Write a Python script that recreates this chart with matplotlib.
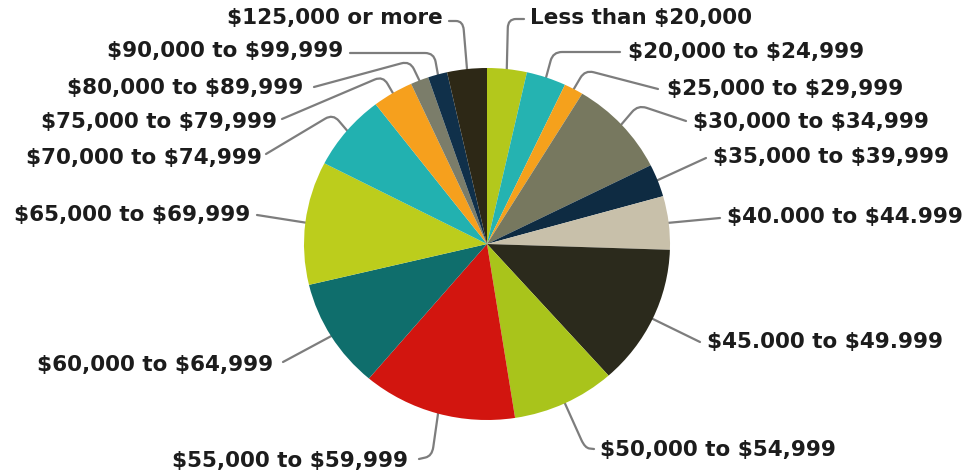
import numpy as np
import matplotlib
matplotlib.use("Agg")
import matplotlib.pyplot as plt
from matplotlib.path import Path
from matplotlib.patches import PathPatch

# Tramos de ingreso y su participación (%)
tramos = [
    "Less than $20,000", "$20,000 to $24,999", "$25,000 to $29,999",
    "$30,000 to $34,999", "$35,000 to $39,999", "$40.000 to $44.999",
    "$45.000 to $49.999", "$50,000 to $54,999", "$55,000 to $59,999",
    "$60,000 to $64,999", "$65,000 to $69,999", "$70,000 to $74,999",
    "$75,000 to $79,999", "$80,000 to $89,999", "$90,000 to $99,999",
    "$125,000 or more",
]
porcentajes = [3.5, 3.5, 1.7, 8.9, 3.0, 4.9, 12.9, 9.1,
               13.6, 10.1, 11.3, 7.0, 3.6, 1.6, 1.7, 3.5]
colores = ["#b3c81c", "#25b3b1", "#f5a11c", "#77785f", "#0e2b42", "#c8c0aa",
           "#2b2a1c", "#a9c41b", "#d2150f", "#0f6e6c", "#bccd1c", "#22b1b0",
           "#f6a01d", "#7b7d6a", "#10304a", "#2d2816"]

# Posición de cada etiqueta en píxeles: (x, y, alineación, codo, fin de línea)
etiquetas = [
    (530, 18, "left", (508, 19), (524, 19)),
    (628, 52, "left", (553, 52), (620, 52)),
    (667, 89, "left", (585, 70), (658, 89)),
    (693, 122, "left", (638, 105), (686, 121)),
    (713, 157, "left", None, (706, 158)),
    (727, 217, "left", None, (720, 218)),
    (707, 342, "left", None, (700, 342)),
    (600, 450, "left", (585, 448), (594, 449)),
    (408, 461, "right", (432, 456), (419, 459)),
    (273, 365, "right", None, (283, 362)),
    (250, 215, "right", None, (257, 215)),
    (262, 158, "right", (333, 114), (266, 154)),
    (277, 122, "right", (383, 76), (282, 119)),
    (303, 88, "right", (410, 61), (314, 87)),
    (343, 51, "right", (434, 53), (350, 53)),
    (443, 18, "right", (463, 21), (449, 21)),
]

W, H = 971, 471
CX, CY = 487, 244   # centro del pastel
RX, RY = 183, 176   # radio en píxeles


def a_datos(x, y):
    return ((x - CX) / RX, (CY - y) / RY)


def linea_guia(p0, codo, p1, r=9):
    p0, p1 = np.array(p0, float), np.array(p1, float)
    if codo is None:
        verts = [p0, p1]
        codes = [Path.MOVETO, Path.LINETO]
    else:
        codo = np.array(codo, float)
        d0, d1 = codo - p0, p1 - codo
        n0, n1 = np.linalg.norm(d0), np.linalg.norm(d1)
        a = codo - d0 / n0 * min(r, n0 / 2)
        b = codo + d1 / n1 * min(r, n1 / 2)
        verts = [p0, a, codo, b, p1]
        codes = [Path.MOVETO, Path.LINETO, Path.CURVE3, Path.CURVE3, Path.LINETO]
    verts = [a_datos(*v) for v in verts]
    return PathPatch(Path(verts, codes), fill=False, edgecolor="#7d7d7d",
                     lw=1.6, capstyle="round", zorder=1)


fig = plt.figure(figsize=(W / 100, H / 100), dpi=100)
ax = fig.add_axes([0, 0, 1, 1])
ax.axis("off")

wedges, _ = ax.pie(porcentajes, colors=colores, startangle=90,
                   counterclock=False, radius=1, center=(0, 0),
                   wedgeprops=dict(linewidth=0, zorder=2))
ax.set_xlim(-CX / RX, (W - CX) / RX)
ax.set_ylim(-(H - CY) / RY, CY / RY)
ax.set_aspect("auto")

for w, nombre, (tx, ty, ha, codo, fin) in zip(wedges, tramos, etiquetas):
    ang = np.deg2rad((w.theta1 + w.theta2) / 2)
    borde = (CX + 0.98 * RX * np.cos(ang), CY - 0.98 * RY * np.sin(ang))
    ax.add_patch(linea_guia(borde, codo, fin))
    ax.text(*a_datos(tx, ty), nombre, ha=ha, va="center",
            fontsize=15.5, fontweight="bold", color="#1c1c1c",
            family="DejaVu Sans", parse_math=False)

fig.savefig("out.png", dpi=100, facecolor="white")
